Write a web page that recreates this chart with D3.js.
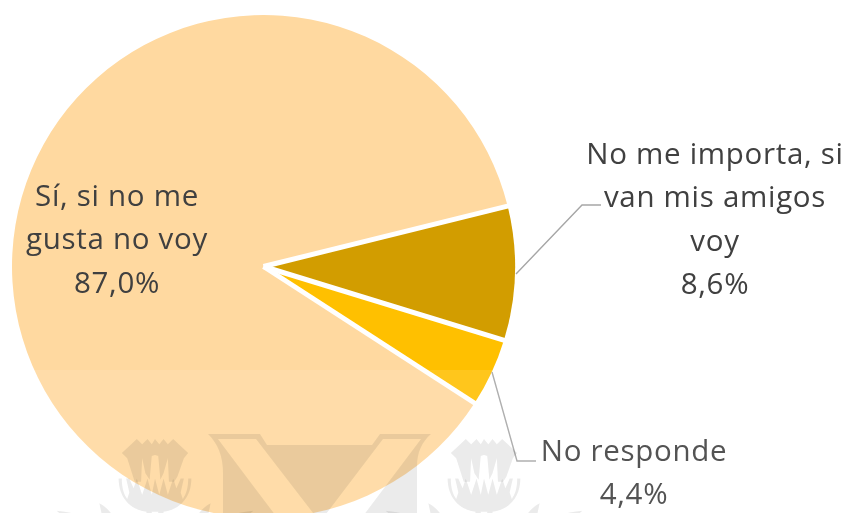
<!doctype html>
<html>

<head>
  <meta charset="utf-8">
  <title>Pie</title>
  <style>
    html, body { margin: 0; padding: 0; background: #fff; overflow: hidden; }
    text { font-family: "Open Sans", "Noto Sans", sans-serif; font-size: 29.5px; letter-spacing: 0.7px; fill: #404040; text-anchor: middle; }
  </style>
</head>

<body>
  <svg id="chart" width="847" height="513"></svg>

  <script src="https://d3js.org/d3.v7.min.js"></script>
  <script>
    var categories = ['Sí, si no me gusta no voy', 'No me importa, si van mis amigos voy', 'No responde'];
    var values = [87.0, 8.6, 4.4];
    var labelLines = [
      ['Sí, si no me', 'gusta no voy'],
      ['No me importa, si', 'van mis amigos', 'voy'],
      ['No responde']
    ];
    var colors = ['#ffd9a0', '#d29d00', '#ffc000'];

    var cx = 263.5, cy = 266.5, radius = 251.5;
    var firstAngle = 122.9 * Math.PI / 180;

    var svg = d3.select('#chart');
    var blur = svg.append('defs').append('filter').attr('id', 'soft');
    blur.append('feGaussianBlur').attr('stdDeviation', 0.45);

    var root = svg.append('g').attr('filter', 'url(#soft)');

    var pie = d3.pie().sort(null)
      .startAngle(firstAngle)
      .endAngle(firstAngle + 2 * Math.PI);
    var arc = d3.arc().innerRadius(0).outerRadius(radius);
    var arcs = pie(values);

    var pieGroup = root.append('g')
      .attr('transform', 'translate(' + cx + ',' + cy + ')');

    pieGroup.selectAll('path')
      .data(arcs)
      .enter()
      .append('path')
      .attr('d', arc)
      .attr('fill', (d, i) => colors[i]);

    // white separators between the slices
    pieGroup.selectAll('line')
      .data(arcs)
      .enter()
      .append('line')
      .attr('x1', 0)
      .attr('y1', 0)
      .attr('x2', d => (radius + 3) * Math.sin(d.startAngle))
      .attr('y2', d => -(radius + 3) * Math.cos(d.startAngle))
      .attr('stroke', '#fff')
      .attr('stroke-width', 5);

    // leader lines
    var leaders = [
      [[516, 274], [582, 205], [601, 205]],
      [[492, 372], [517, 461], [536, 461]]
    ];
    var line = d3.line();
    root.selectAll('path.leader')
      .data(leaders)
      .enter()
      .append('path')
      .attr('class', 'leader')
      .attr('d', line)
      .attr('fill', 'none')
      .attr('stroke', '#a6a6a6')
      .attr('stroke-width', 1.4);

    // labels
    var labelPos = [
      { x: 117, y: 206 },
      { x: 715, y: 164 },
      { x: 634, y: 461 }
    ];
    var lineHeight = 43.3;
    var fmt = d3.format('.1f');
    labelLines.forEach(function(lines, i) {
      var rows = lines.concat(fmt(values[i]).replace('.', ',') + '%');
      root.append('g').selectAll('text')
        .data(rows)
        .enter()
        .append('text')
        .attr('x', labelPos[i].x)
        .attr('y', (d, j) => labelPos[i].y + j * lineHeight)
        .text(d => d);
    });

    // watermark crest, lies over the chart
    var mark = root.append('g').attr('fill', 'rgba(0,0,0,0.09)');

    // light band the scan leaves at the bottom
    root.append('rect')
      .attr('x', 0).attr('y', 370).attr('width', 847).attr('height', 143)
      .attr('fill', 'rgba(255,255,255,0.1)');

    function thistle(x) {
      var g = mark.append('g').attr('transform', 'translate(' + x + ',439) scale(1.07) translate(0,-434)');
      g.append('path').attr('d',
        'M-31,447 L-17,434 L-12,439 L-7,434 L-3,439 L0,434 L4,439 L8,434 L12,439 L17,434 L31,447 L27,452 ' +
        'L21,469 L18,474 L13,474 L12,452 L8,466 L5,472 L3,450 L0,449 L-3,450 L-5,472 L-9,466 L-12,452 L-13,474 L-19,474 L-26,452 Z');
      g.append('path').attr('d',
        'M-34,471 L-31,471 C-31,480 -29,486 -26,490 L-24,484 L-27,471 L-24,471 L-20,480 L-17,471 L-12,486 ' +
        'L-7,471 L-3,486 L0,471 L4,486 L8,471 L12,486 L17,471 L20,480 L24,471 L27,471 L24,484 L26,490 ' +
        'C29,486 31,480 31,471 L34,471 C34,488 24,500 8,502 L8,513 L3,513 L3,502 L-3,502 L-3,513 L-8,513 L-8,502 C-24,500 -34,488 -34,471 Z');
      g.append('path').attr('d', 'M-92,501 C-74,503 -60,507 -52,513 L-78,513 Z');
      g.append('path').attr('d', 'M-52,494 C-44,498 -39,505 -36,513 L-48,513 Z');
      g.append('path').attr('d', 'M92,501 C74,503 60,507 52,513 L78,513 Z');
      g.append('path').attr('d', 'M52,494 C44,498 39,505 36,513 L48,513 Z');
    }
    thistle(155);
    thistle(484);

    // shield, with the V left open
    mark.append('path').attr('fill-rule', 'evenodd').attr('d',
      'M208,434 L260,434 L267,445 L372,445 L380,434 L431,434 C422,442 417,452 417,467 L417,530 L223,530 L223,474 C223,456 218,444 208,434 Z ' +
      'M218,439 L256,439 L320,522 L383,439 L421,439 L357,524 L282,524 Z');
  </script>

</body>

</html>
